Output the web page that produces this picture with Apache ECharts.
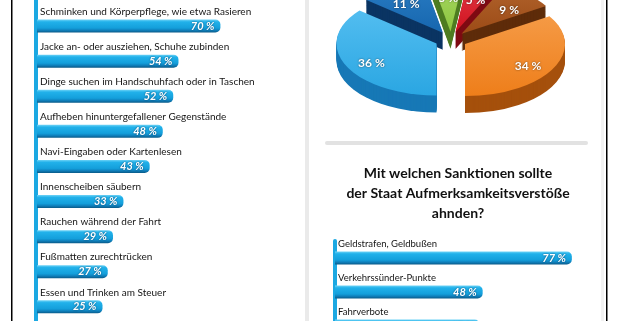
<!DOCTYPE html>
<html><head><meta charset="utf-8">
<script src="https://cdn.jsdelivr.net/npm/echarts@6/dist/echarts.min.js"></script>
<style>html,body{margin:0;padding:0;background:#fff}#c{width:618px;height:321px}</style>
</head><body><div id="c"></div>
<script>
// ---- data ----
const leftCategories = [
  'Schminken und Körperpflege, wie etwa Rasieren',
  'Jacke an- oder ausziehen, Schuhe zubinden',
  'Dinge suchen im Handschuhfach oder in Taschen',
  'Aufheben hinuntergefallener Gegenstände',
  'Navi-Eingaben oder Kartenlesen',
  'Innenscheiben säubern',
  'Rauchen während der Fahrt',
  'Fußmatten zurechtrücken',
  'Essen und Trinken am Steuer'
];
const leftValues = [70, 54, 52, 48, 43, 33, 29, 27, 25];

const rightTitle = 'Mit welchen Sanktionen sollte\nder Staat Aufmerksamkeitsverstöße\nahnden?';
const rightCategories = ['Geldstrafen, Geldbußen', 'Verkehrssünder-Punkte', 'Fahrverbote'];
const rightValues = [77, 48, 47];

const pieNames = ['Segment A', 'Segment B', 'Segment C', 'Segment D', 'Segment E', 'Segment F'];
const pieValues = [34, 36, 11, 5, 5, 9];

// ---- styles ----
const FONT = 'Lato';
const pieTop = ['#EE7E1A', '#2AA6E2', '#1666AE', '#8DC540', '#D0121F', '#9C4B16'];
const pieTopLight = ['#F59A45', '#52BDF0', '#2A7DC4', '#A6D862', '#E23A45', '#B0622C'];
const pieSide = ['#A5500C', '#1778B6', '#0B3563', '#4F7D22', '#7E0A12', '#5E2C0A'];

const barGradient = new echarts.graphic.LinearGradient(0, 0, 0, 1, [
  {offset: 0, color: '#6FD3F6'},
  {offset: 0.18, color: '#21B1EA'},
  {offset: 0.65, color: '#149FDB'},
  {offset: 0.82, color: '#0F80BC'},
  {offset: 1, color: '#0A5A88'}
]);

const valueLabel = {
  show: true, position: 'insideRight', distance: 6,
  formatter: p => p.value + ' %',
  color: '#fff', fontFamily: FONT, fontWeight: 'bold', fontStyle: 'italic', fontSize: 11,
  textShadowColor: 'rgba(0,40,80,0.8)', textShadowBlur: 2
};

// ---- pie geometry (layout) ----
const PIE = {cx: 451, cy: 40, rx: 100, k: 0.52, depth: 17, explode: 16, start: -32.4 * Math.PI / 180, labelR: 0.72};

function renderPie(params, api) {
  const i = params.dataIndex;
  const total = pieValues.reduce((a, b) => a + b, 0);
  let acc = 0;
  for (let j = 0; j < i; j++) acc += pieValues[j];
  const a0 = PIE.start + acc / total * Math.PI * 2;
  const a1 = a0 + api.value(0) / total * Math.PI * 2;
  const mid = (a0 + a1) / 2;
  const x = PIE.cx + PIE.explode * Math.cos(mid);
  const y = PIE.cy + PIE.explode * Math.sin(mid) * PIE.k;
  const baseZ = Math.round((Math.sin(mid) + 1) * 100) * 100;
  const shape = {cx: 0, cy: 0, r: PIE.rx, r0: 0, startAngle: a0, endAngle: a1, clockwise: true};
  const children = [];
  for (let d = PIE.depth; d >= 1; d--) {
    children.push({type: 'sector', x: x, y: y + d, scaleY: PIE.k, shape: shape,
      style: {fill: pieSide[i]}, z2: baseZ + (PIE.depth - d)});
  }
  children.push({type: 'sector', x: x, y: y, scaleY: PIE.k, shape: shape,
    style: {fill: new echarts.graphic.LinearGradient(0, 0, 0, 1, [
      {offset: 0, color: pieTopLight[i]}, {offset: 1, color: pieTop[i]}])},
    z2: baseZ + 50});
  const lr = PIE.rx * PIE.labelR;
  children.push({type: 'text', x: x + lr * Math.cos(mid), y: y + lr * Math.sin(mid) * PIE.k + 4,
    style: {text: api.value(0) + ' %', fill: '#fff', fontFamily: FONT, fontWeight: 'bold', fontSize: 12,
      align: 'center', verticalAlign: 'middle', textShadowColor: 'rgba(0,0,0,0.6)', textShadowBlur: 2},
    z2: 100000});
  return {type: 'group', children: children};
}

const chart = echarts.init(document.getElementById('c'), null, {renderer: 'canvas'});
chart.setOption({
  backgroundColor: '#fff',
  animation: false,
  title: {
    text: rightTitle, left: 453, top: 158, textAlign: 'center',
    textStyle: {fontFamily: FONT, fontWeight: 'bold', fontSize: 14, lineHeight: 20, color: '#111'}
  },
  graphic: [
    {type: 'rect', shape: {x: 11, y: 0, width: 1.5, height: 321}, style: {fill: '#000'}, silent: true},
    {type: 'rect', shape: {x: 606, y: 0, width: 1.5, height: 321}, style: {fill: '#000'}, silent: true},
    {type: 'rect', shape: {x: 305, y: 0, width: 4, height: 321}, style: {fill: '#EAEAEA'}, silent: true},
    {type: 'rect', shape: {x: 601, y: 0, width: 3, height: 321}, style: {fill: '#F2F2F2'}, silent: true},
    {type: 'rect', shape: {x: 325, y: 141, width: 263, height: 4, r: 2}, style: {fill: '#E2E2E2'}, silent: true},
    {type: 'rect', shape: {x: 34, y: 0, width: 4, height: 321}, style: {fill: '#1BA8E2'}, silent: true}
  ],
  grid: [
    {left: 37, top: 8.5, width: 262, height: 315.9, outerBoundsMode: 'none', containLabel: false},
    {left: 335, top: 241, width: 283, height: 102, outerBoundsMode: 'none', containLabel: false}
  ],
  xAxis: [
    {gridIndex: 0, type: 'value', min: 0, max: 100, show: false},
    {gridIndex: 1, type: 'value', min: 0, max: 92, show: false}
  ],
  yAxis: [
    {gridIndex: 0, type: 'category', data: leftCategories, inverse: true,
      axisLine: {show: false}, axisTick: {show: false}, axisLabel: {show: false}},
    {gridIndex: 1, type: 'category', data: rightCategories, inverse: true,
      axisLine: {show: true, lineStyle: {color: '#1BA8E2', width: 4}}, axisTick: {show: false}, axisLabel: {show: false}}
  ],
  series: [
    {type: 'bar', xAxisIndex: 0, yAxisIndex: 0, data: leftValues, barWidth: 13,
      itemStyle: {color: barGradient, borderRadius: [0, 5, 5, 0]}, label: valueLabel},
    {type: 'bar', xAxisIndex: 0, yAxisIndex: 0, data: leftValues, barWidth: 13, barGap: '-100%', silent: true,
      itemStyle: {color: 'rgba(0,0,0,0)'},
      label: {show: true, position: [3, -13], formatter: '{b}', color: '#151515', fontFamily: FONT, fontSize: 10}},
    {type: 'bar', xAxisIndex: 1, yAxisIndex: 1, data: rightValues, barWidth: 13,
      itemStyle: {color: barGradient, borderRadius: [0, 5, 5, 0]}, label: valueLabel},
    {type: 'bar', xAxisIndex: 1, yAxisIndex: 1, data: rightValues, barWidth: 13, barGap: '-100%', silent: true,
      itemStyle: {color: 'rgba(0,0,0,0)'},
      label: {show: true, position: [3, -13], formatter: '{b}', color: '#151515', fontFamily: FONT, fontSize: 9.5}},
    {type: 'custom', name: 'Anteil', coordinateSystem: 'none', renderItem: renderPie,
      data: pieValues.map((v, i) => ({name: pieNames[i], value: v}))}
  ]
});
</script></body></html>
